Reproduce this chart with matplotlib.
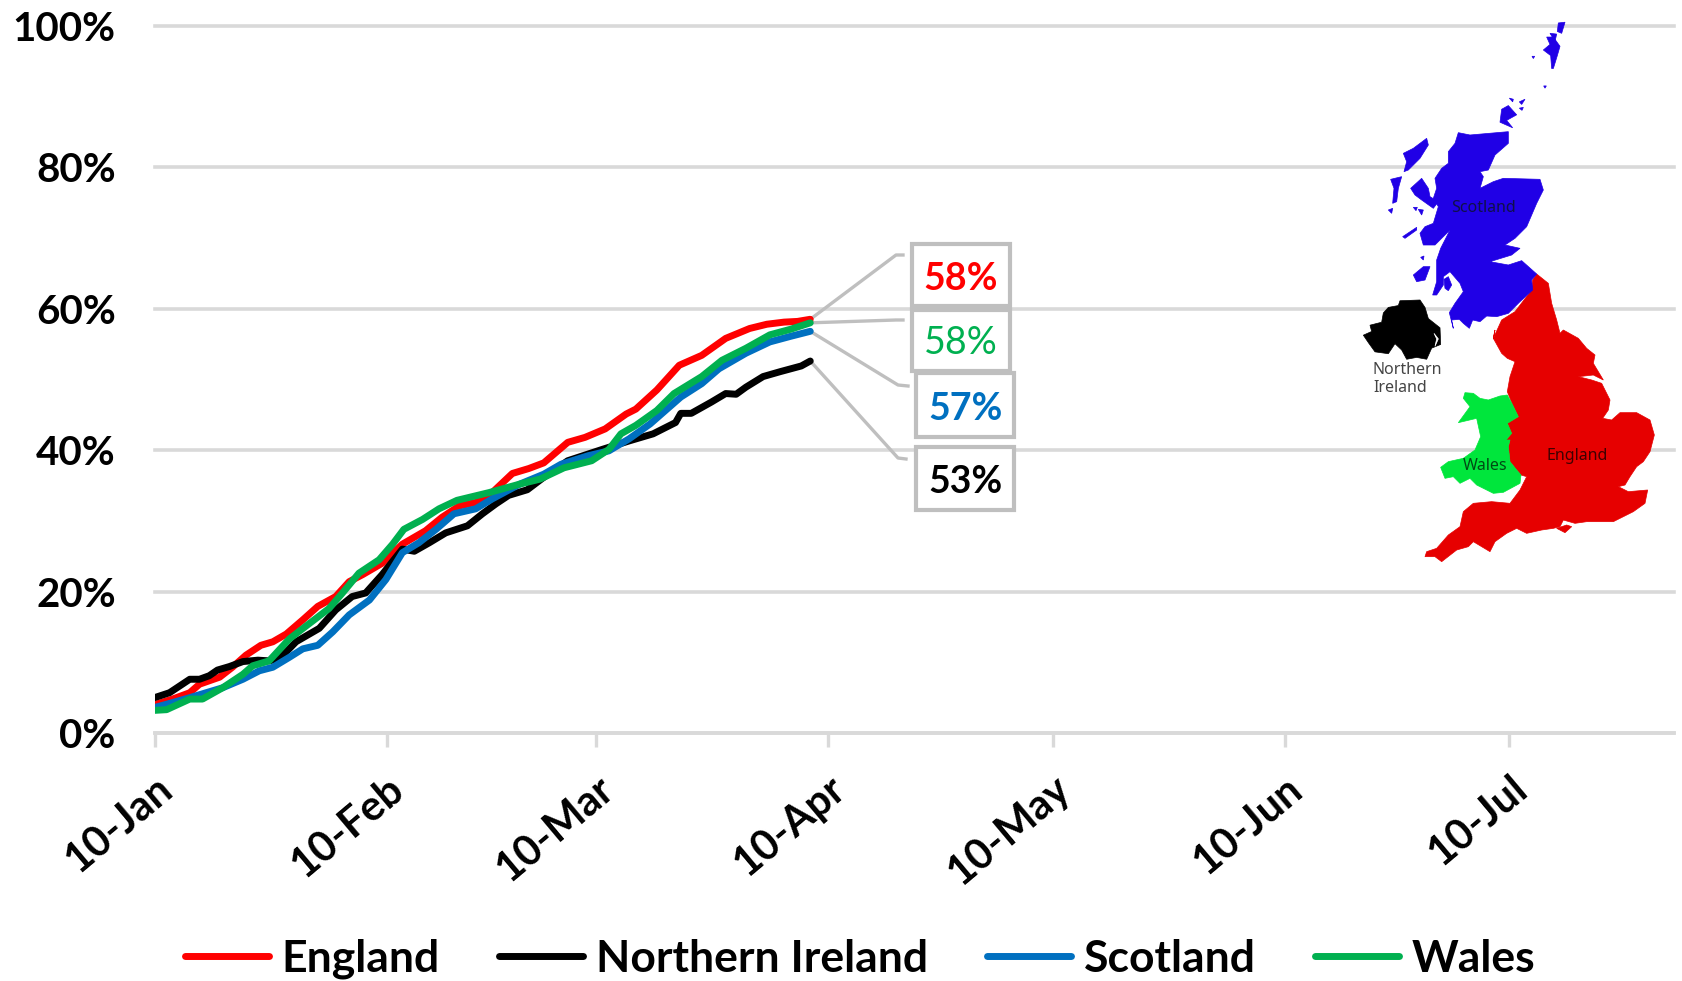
import matplotlib
matplotlib.use("Agg")
import matplotlib.pyplot as plt
from matplotlib.patches import Polygon, Rectangle
from matplotlib.transforms import Affine2D

plt.rcParams['font.family'] = ['Lato', 'DejaVu Sans']

# ---------- data (percent, days since 10 Jan) ----------
england_days = [0, 2.4, 4.7, 6, 8.7, 10.4, 12.2, 14.2, 15.8, 17.6, 19.8, 21.8, 24.2, 26, 27.8, 30.4, 33.1, 36.2, 38.4, 40.7, 42.9, 45.1, 47.8, 50, 52, 55.2, 57.5, 60.2, 63, 64.3, 67.1, 70.1, 73.1, 76.3, 79.5, 81.8, 84.1, 85.9, 87.6]
england_vals = [4.0, 4.8, 5.7, 6.9, 7.9, 9.3, 11, 12.4, 12.9, 14, 16, 17.9, 19.3, 21.4, 22.4, 24, 26.7, 28.6, 30.5, 32.1, 32.6, 34, 36.7, 37.4, 38.2, 41.1, 41.8, 43, 45.1, 45.8, 48.5, 52, 53.4, 55.8, 57.2, 57.8, 58.1, 58.2, 58.5]

ni_days = [0, 2, 4.7, 6, 7.3, 8.4, 10, 11.8, 13.8, 15.3, 16.7, 18.9, 22, 24.2, 26.4, 28.2, 30.4, 33.1, 34.7, 36.7, 38.9, 41.8, 43.8, 45.6, 47.3, 49.8, 51.8, 55.2, 59.8, 63.4, 66.6, 69.6, 70.3, 71.7, 74.4, 76.3, 77.7, 79, 81.3, 83.6, 86.4, 87.6]
ni_vals = [5.0, 5.7, 7.6, 7.6, 8.1, 8.9, 9.4, 10.1, 10.3, 10.2, 10.5, 12.9, 14.8, 17.4, 19.3, 19.8, 22.4, 26, 25.7, 26.9, 28.3, 29.3, 31, 32.4, 33.6, 34.4, 36, 38.5, 40.1, 41.3, 42.3, 43.9, 45.2, 45.2, 46.8, 48, 47.9, 48.9, 50.4, 51.1, 51.9, 52.6]

scotland_days = [0, 2.4, 4.7, 6.9, 9.1, 11.8, 14, 15.8, 18, 19.8, 21.8, 23.8, 26, 28.7, 30.9, 33.1, 35.3, 37.6, 40, 42.9, 45.1, 48.8, 52, 54.3, 57.9, 60.7, 63.4, 66.2, 70.3, 73.1, 75.4, 79, 82.2, 85, 87.6]
scotland_vals = [3.6, 4.3, 5, 5.7, 6.4, 7.6, 8.8, 9.3, 10.7, 11.9, 12.4, 14.3, 16.7, 18.8, 21.7, 25.5, 26.9, 28.8, 31, 31.7, 33.1, 35.2, 36.6, 38, 39.2, 39.9, 41.6, 43.7, 47.5, 49.4, 51.5, 53.7, 55.3, 56.1, 56.8]

wales_days = [0, 1.6, 4.7, 6.4, 9.1, 11.8, 13.1, 15.3, 18, 20.7, 23.3, 25.1, 27.3, 30, 31.8, 33.3, 35.8, 38, 40.4, 44.7, 48.8, 51.5, 54.7, 58.4, 60.7, 62.3, 64.3, 67.1, 69.4, 73.1, 75.8, 79, 82.2, 85, 87.6]
wales_vals = [3.2, 3.3, 4.8, 4.8, 6.4, 8.3, 9.5, 10.2, 13.3, 15.5, 17.6, 19.8, 22.6, 24.5, 26.7, 28.8, 30.2, 31.7, 32.9, 34, 35.2, 35.9, 37.5, 38.5, 40.1, 42.3, 43.5, 45.6, 48, 50.4, 52.7, 54.4, 56.3, 57.1, 58]

series_names = ['England', 'Northern Ireland', 'Scotland', 'Wales']
series_colors = ['#ff0000', '#000000', '#0070c0', '#00b050']

tick_days = [0, 31, 59, 90, 120, 151, 181]
tick_labels = ['10-Jan', '10-Feb', '10-Mar', '10-Apr', '10-May', '10-Jun', '10-Jul']
y_ticks = [0, 20, 40, 60, 80, 100]
y_labels = ['0%', '20%', '40%', '60%', '80%', '100%']

callout_labels = ['58%', '58%', '57%', '53%']
callout_weights = ['bold', 'normal', 'bold', 'bold']
callout_colors = ['#ff0000', '#00b050', '#0070c0', '#000000']

# ---------- figure ----------
W, H = 1683, 981
fig = plt.figure(figsize=(W / 100, H / 100), dpi=100, facecolor='white')
L, R, T, B = 154.6, 1674, 25.8, 733
ax = fig.add_axes([L / W, 1 - B / H, (R - L) / W, (B - T) / H])
px = Affine2D().scale(1, -1).translate(0, H)   # reference pixel coordinates

GRID = '#d9d9d9'
ax.set_xlim(0, 203)
ax.set_ylim(0, 100)
for s in ['top', 'right', 'left']:
    ax.spines[s].set_visible(False)
ax.spines['bottom'].set_color(GRID)
ax.spines['bottom'].set_linewidth(2.6)
ax.set_yticks(y_ticks, y_labels, fontsize=29, fontweight='bold', color='#000000')
ax.set_xticks(tick_days)
ax.set_xticklabels(tick_labels, fontsize=30, fontweight='bold', color='#000000',
                   rotation=40, ha='right', va='top', rotation_mode='anchor')
ax.tick_params(axis='y', length=0, pad=28)
ax.tick_params(axis='x', length=10, width=2.4, color=GRID, pad=16)
ax.yaxis.grid(True, color=GRID, linewidth=2.6, clip_on=False)
ax.set_axisbelow(True)
for gl in ax.get_ygridlines():
    gl.set_clip_on(False)

handles = []
for days, vals, name, col in zip(
        [england_days, ni_days, scotland_days, wales_days],
        [england_vals, ni_vals, scotland_vals, wales_vals],
        series_names, series_colors):
    ln, = ax.plot(days, vals, color=col, lw=5, label=name, solid_joinstyle='round',
                  solid_capstyle='round', zorder=3)
    handles.append(ln)

fig.legend(handles=handles, loc='center', bbox_to_anchor=(860 / W, 1 - 959 / H), ncol=4,
           frameon=False, prop={'size': 32, 'weight': 'bold'}, handlelength=1.9,
           handletextpad=0.28, columnspacing=1.33, labelcolor='#000000')

# ---------- callouts ----------
BOX = '#bfbfbf'
callout_boxes = [(912, 244, 1010, 306), (912, 310, 1010, 371), (916, 373, 1014, 437), (916, 447, 1014, 510)]
callout_text = [(961, 279), (961, 343), (965.5, 409), (965.5, 482)]
callout_elbow = [((896, 255), (903, 255)), ((896, 320), (903, 320)),
                 ((898, 385), (908, 386)), ((898, 458), (906, 459))]
callout_ends = [(england_days[-1], england_vals[-1]), (wales_days[-1], wales_vals[-1]),
                (scotland_days[-1], scotland_vals[-1]), (ni_days[-1], ni_vals[-1])]
for box, txt, elbow, end, lab, wt, col in zip(callout_boxes, callout_text, callout_elbow, callout_ends,
                                              callout_labels, callout_weights, callout_colors):
    x0, y0, x1, y1 = box
    ax.add_patch(Rectangle((x0, y0), x1 - x0, y1 - y0, transform=px, fc='white', ec=BOX, lw=3,
                           clip_on=False, zorder=5))
    ax.text(txt[0], txt[1], lab, transform=px, ha='center', va='center', fontsize=27, fontweight=wt,
            color=col, zorder=6)
    start = px.inverted().transform(ax.transData.transform(end))
    xs = [start[0], elbow[0][0], elbow[1][0]]
    ys = [start[1], elbow[0][1], elbow[1][1]]
    ax.plot(xs, ys, transform=px, color=BOX, lw=2.4, clip_on=False, zorder=2, scalex=False, scaley=False)

def crop_a(pts):   # Scotland crop
    return [(1380 + x / 3, 120 + y / 3) for x, y in pts]

def crop_b(pts):   # England and Wales crop
    return [(1420 + x / 3, 330 + y / 3) for x, y in pts]

def crop_c(pts):   # whole-map crop
    return [(1320 + x / 3, y / 2.7) for x, y in pts]

england_map = (
    crop_a([(470,462),(505,490),(515,550),(530,600),(540,640)])
    + crop_b([(430,0),(475,25),(500,55),(525,75),(520,100),(550,150),(520,135),(475,140),(515,150),(545,160),(570,210),(565,240),(548,265),(575,270),(600,248),(650,248),(690,270),(703,315),(690,365),(670,395),(650,410),(630,440),(615,465),(595,470),(625,485),(683,480),(675,520),(640,545),(580,575),(500,575),(465,580),(430,570),(420,590),(400,595),(365,600),(320,610),(290,595),(260,610),(225,635),(210,665),(160,635),(145,650),(110,660),(65,695),(45,680),(15,680),(20,665),(50,655),(85,615),(120,590),(130,545),(160,520),(215,515),(270,520),(300,480),(320,440),(303,435),(290,420),(270,395),(265,350),(270,330),(258,330),(275,310),(262,280),(295,260),(278,225),(262,185),(270,140),(285,95),(262,85),(245,70),(220,25),(225,0)])
    + crop_a([(340,655),(365,600),(405,575),(455,510),(458,480)])
)
wight_map = crop_b([(410,595),(440,585),(455,590),(435,608)])
wales_map = crop_b([(295,260),(278,225),(262,195),(240,198),(205,210),(180,205),(160,190),(135,188),(130,205),(150,230),(115,278),(170,265),(182,320),(165,360),(130,385),(85,395),(62,412),(75,445),(100,440),(120,460),(150,445),(170,465),(220,490),(250,487),(300,460),(303,435),(290,420),(270,395),(265,350),(270,330),(258,330),(275,310),(262,280)])
scotland_map = [
    crop_a([(470,462),(455,480),(458,510),(420,545),(385,580),(350,590),(320,588),(300,605),(278,600),(268,625),(250,610),(238,598),(215,600),(220,625),(208,578),(225,550),(250,515),(240,490),(210,455),(190,470),(190,495),(170,525),(158,525),(170,485),(170,420),(182,385),(210,330),(195,345),(165,375),(130,375),(120,340),(135,320),(160,310),(175,260),(160,235),(170,205),(165,175),(185,145),(205,130),(205,95),(225,70),(235,38),(270,45),(385,35),(385,70),(345,105),(325,150),(300,155),(310,170),(300,205),(340,185),(370,175),(480,178),(490,210),(470,250),(440,320),(405,355),(375,375),(420,385),(395,405),(330,425),(385,435),(425,422)]),
    crop_a([(70,100),(100,85),(140,55),(145,75),(120,115),(85,150),(72,155),(80,125)]),
    crop_a([(32,178),(65,170),(55,205),(50,245),(38,250),(42,205)]),
    crop_a([(25,270),(38,265),(35,280)]),
    crop_a([(92,205),(125,175),(145,205),(150,230),(175,245),(160,265),(125,240),(105,225)]),
    crop_a([(100,262),(112,262),(108,272)]),
    crop_a([(115,268),(130,270),(125,285)]),
    crop_a([(68,350),(110,322),(110,330),(75,355)]),
    crop_a([(100,465),(130,440),(150,440),(135,480),(110,485)]),
    crop_a([(122,412),(132,408),(130,420)]),
    crop_a([(192,478),(205,470),(215,495),(205,512),(195,505)]),
    crop_c([(545,295),(565,285),(590,310),(560,325),(578,345),(540,330)]),
    crop_c([(568,265),(580,268),(578,275)]),
    crop_c([(598,275),(615,268),(605,282)]),
    crop_c([(598,292),(610,290),(606,298)]),
    crop_c([(680,100),(700,100),(720,125),(712,150),(700,185),(695,185),(692,150),(670,135),(690,120)]),
    crop_c([(690,90),(710,92),(705,112)]),
    crop_c([(715,62),(735,60),(725,90),(712,85)]),
    crop_c([(636,152),(644,152),(640,158)]),
    crop_c([(671,232),(679,232),(675,238)]),
]
ni_map = crop_c([(130,905),(155,895),(150,878),(185,870),(190,845),(205,830),(235,825),(240,812),(300,810),(315,830),(325,860),(360,885),(362,930),(335,940),(320,970),(290,965),(260,970),(245,945),(225,928),(205,955),(165,950),(145,925)])
ni_lough = crop_c([(342,900),(355,915),(345,935),(350,915)])

def draw_shape(poly, color):
    ax.add_patch(Polygon(poly, closed=True, transform=px, fc=color, ec=color, lw=0.5, clip_on=False, zorder=4))

draw_shape(england_map, '#e60000')
draw_shape(wight_map, '#e60000')
draw_shape(wales_map, '#00e63c')
for poly in scotland_map:
    draw_shape(poly, '#2000e6')
draw_shape(ni_map, '#000000')
draw_shape(ni_lough, '#ffffff')

map_labels = [('Scotland', 1483, 208, 'center', '#10104a'), ('England', 1577, 455.5, 'center', '#400000'),
              ('Wales', 1485, 466.5, 'center', '#004a14'), ('Northern', 1373, 369.5, 'left', '#444444'),
              ('Ireland', 1373, 388, 'left', '#444444')]
for s, x, y, ha, c in map_labels:
    ax.text(x, y, s, transform=px, ha=ha, va='center', fontsize=11.5, color=c, family='Noto Sans', zorder=5)

fig.savefig('out.png', dpi=100, facecolor='white')
